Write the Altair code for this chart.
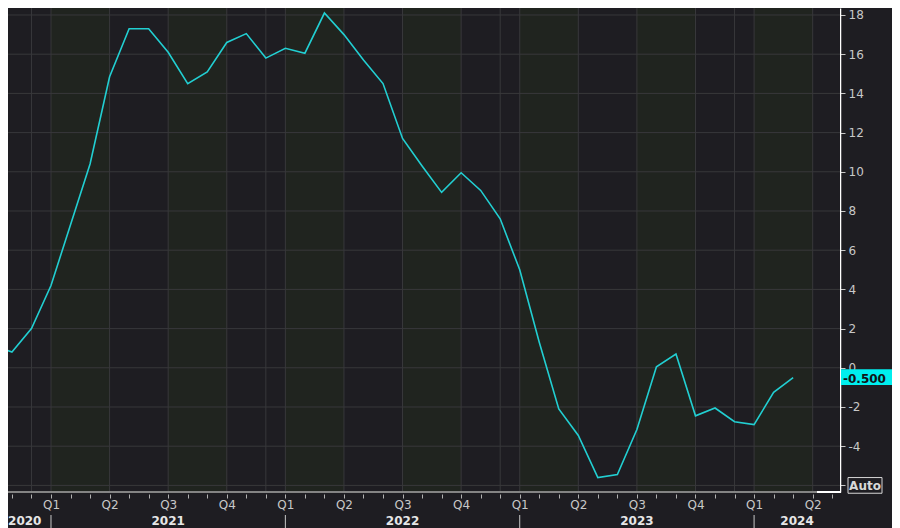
import altair as alt
import pandas as pd

# Month-end observations (YYYY-MM), plotted at the month boundary
months = ["2020-09", "2020-10", "2020-11", "2020-12",
          "2021-01", "2021-02", "2021-03", "2021-04", "2021-05", "2021-06",
          "2021-07", "2021-08", "2021-09", "2021-10", "2021-11", "2021-12",
          "2022-01", "2022-02", "2022-03", "2022-04", "2022-05", "2022-06",
          "2022-07", "2022-08", "2022-09", "2022-10", "2022-11", "2022-12",
          "2023-01", "2023-02", "2023-03", "2023-04", "2023-05", "2023-06",
          "2023-07", "2023-08", "2023-09", "2023-10", "2023-11", "2023-12",
          "2024-01", "2024-02"]
values = [1.2, 0.8, 2.0, 4.2,
          7.3, 10.4, 14.85, 17.3, 17.3, 16.1,
          14.5, 15.1, 16.6, 17.05, 15.8, 16.3,
          16.05, 18.1, 17.0, 15.7, 14.5, 11.7,
          10.3, 8.95, 9.95, 9.05, 7.6, 5.0,
          1.3, -2.1, -3.45, -5.6, -5.45, -3.15,
          0.05, 0.7, -2.45, -2.05, -2.75, -2.9,
          -1.25, -0.5]

year_labels = ["2020", "2021", "2022", "2023", "2024"]
year_pos = [-2.2, 6, 18, 30, 38.2]          # month index of label position
year_starts = [0, 12, 24, 36]
vgrid_months = [-1, 0, 3, 6, 9, 11, 12, 15, 18, 21, 23, 24, 27, 30, 33, 35, 36, 39]
hgrid_values = list(range(-6, 19, 2))
quarter_starts = list(range(-3, 40, 3))


def month_index(s):
    y, m = map(int, s.split("-"))
    return (y - 2021) * 12 + m


df = pd.DataFrame({"m": [month_index(s) for s in months], "v": values})
bands = pd.DataFrame({
    "q0": quarter_starts,
    "q1": [q + 3 for q in quarter_starts],
    "shade": ["green" if (q // 3) % 2 == 0 else "dark" for q in quarter_starts],
})
vgrid = pd.DataFrame({"m": vgrid_months})
hgrid = pd.DataFrame({"v": hgrid_values})
years = pd.DataFrame({"m": year_pos, "label": year_labels})
ysep = pd.DataFrame({"m": year_starts})
last = pd.DataFrame({"v": [values[-1]], "label": [f"{values[-1]:.3f}"]})
auto = pd.DataFrame({"v": [-6], "label": ["Auto"]})

BG = "#1e1d22"
GRID = "#38383b"
LABEL = "#c8c8c8"
FONT = "DejaVu Sans"

H = 484
xscale = alt.Scale(domain=[-2.2017, 40.399], nice=False, zero=False)
yscale = alt.Scale(domain=[-6.337, 18.357], nice=False, zero=False)

xaxis = alt.Axis(
    values=list(range(-2, 41)),
    labelExpr="datum.value % 3 == 0 ? 'Q' + ((((datum.value / 3) % 4) + 4) % 4 + 1) : ''",
    orient="bottom", offset=2, tickSize=4, tickColor="#b0b0b0", tickWidth=1,
    labelColor=LABEL, labelFontSize=12, labelFont=FONT, labelPadding=1,
    domain=False, grid=False, title=None, labelOverlap=False, labelBound=False,
    labelFlush=False,
)
yaxis = alt.Axis(
    values=hgrid_values, orient="right",
    labelExpr="datum.value == -6 ? '' : '' + datum.value",
    grid=False, domainColor="#ffffff", domainWidth=1.5,
    tickColor=LABEL, tickSize=5, labelPadding=3,
    labelColor=LABEL, labelFontSize=12, labelFont=FONT, title=None,
    labelOverlap=False, labelBound=False, labelFlush=False,
)


def X(field):
    return alt.X(field, scale=xscale, axis=xaxis)


def Y(field):
    return alt.Y(field, scale=yscale, axis=yaxis)


band_layer = alt.Chart(bands).mark_rect(clip=True).encode(
    x=X("q0:Q"),
    x2="q1:Q",
    color=alt.Color("shade:N", scale=alt.Scale(domain=["dark", "green"],
                                               range=[BG, "#20241f"]), legend=None),
)

vgrid_layer = alt.Chart(vgrid).mark_rule(color=GRID, strokeWidth=1, clip=True).encode(
    x=X("m:Q")
)
hgrid_layer = alt.Chart(hgrid).mark_rule(color=GRID, strokeWidth=1, clip=True).encode(
    y=Y("v:Q")
)

line_layer = alt.Chart(df).mark_line(color="#22cfd2", strokeWidth=1.6, clip=True).encode(
    x=X("m:Q"),
    y=Y("v:Q"),
)

domain_rule = alt.Chart(df).mark_rule(color="#858585", strokeWidth=1.5).encode(
    x=alt.value(0), x2=alt.value(809), y=alt.value(H)
)
corner_rule = alt.Chart(df).mark_rule(color="#ffffff", strokeWidth=1.5).encode(
    x=alt.value(809), x2=alt.value(833), y=alt.value(H)
)

ysep_layer = alt.Chart(ysep).mark_rule(color="#c8c8c8", strokeWidth=1).encode(
    x=X("m:Q"),
    y=alt.value(507), y2=alt.value(520),
)

year_first = alt.Chart(years.iloc[:1]).mark_text(
    align="left", baseline="middle", fontSize=12, fontWeight="bold",
    font=FONT, color="#e6e6e6"
).encode(x=X("m:Q"), y=alt.value(513), text="label:N")
year_rest = alt.Chart(years.iloc[1:]).mark_text(
    align="center", baseline="middle", fontSize=12, fontWeight="bold",
    font=FONT, color="#e6e6e6"
).encode(x=X("m:Q"), y=alt.value(513), text="label:N")

hl_box = alt.Chart(last).transform_calculate(
    top="datum.v + 0.42", bot="datum.v - 0.38"
).mark_rect(color="#00eeee").encode(
    x=alt.value(833), x2=alt.value(884),
    y=Y("top:Q"), y2="bot:Q",
)
hl_text = alt.Chart(last).mark_text(
    align="left", baseline="middle", fontSize=12, fontWeight="bold",
    font=FONT, color="#101418", dy=1
).encode(x=alt.value(835), y=Y("v:Q"), text="label:N")

auto_box = alt.Chart(auto).transform_calculate(
    top="datum.v + 0.4", bot="datum.v - 0.4"
).mark_rect(fill=BG, stroke="#d8d8d8", strokeWidth=1).encode(
    x=alt.value(840), x2=alt.value(874),
    y=Y("top:Q"), y2="bot:Q",
)
auto_text = alt.Chart(auto).mark_text(
    align="center", baseline="middle", fontSize=12, fontWeight="bold",
    font=FONT, color="#d8d8d8", dy=1
).encode(x=alt.value(857), y=Y("v:Q"), text="label:N")

chart = alt.layer(
    band_layer, vgrid_layer, hgrid_layer, line_layer, domain_rule, corner_rule,
    ysep_layer, year_first, year_rest, hl_box, hl_text, auto_box, auto_text,
).properties(
    width=832, height=H,
    padding={"left": 0, "top": 0, "right": 52, "bottom": 36},
    autosize=alt.AutoSizeParams(type="none"),
).configure(background=BG).configure_view(strokeWidth=0)

chart.save("out.html", embed_options={"renderer": "svg", "actions": False})
